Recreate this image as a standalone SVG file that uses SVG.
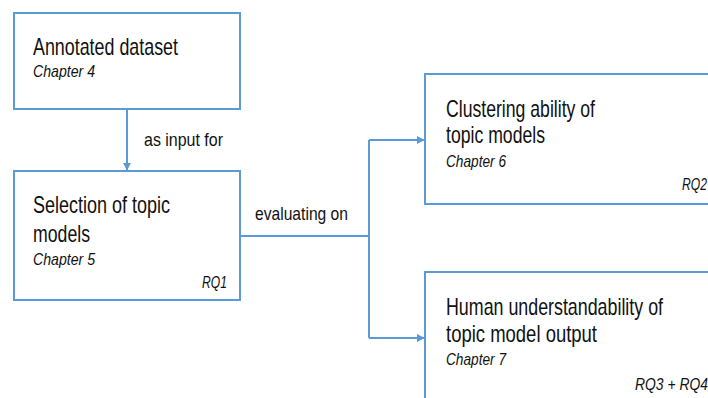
<svg xmlns="http://www.w3.org/2000/svg" width="708" height="398" viewBox="0 0 708 398">
  <defs>
    <style>
      .box { fill: #ffffff; stroke: #5b9bd5; stroke-width: 2; }
      .link { fill: none; stroke: #5b9bd5; stroke-width: 2; }
      .title { font-family: "Liberation Sans", Arial, sans-serif; font-size: 24px; fill: #111111; }
      .sub { font-family: "Liberation Sans", Arial, sans-serif; font-size: 17px; font-style: italic; fill: #111111; }
      .lbl { font-family: "Liberation Sans", Arial, sans-serif; font-size: 19px; fill: #111111; }
    </style>
    <marker id="arrow" viewBox="0 0 10 10" refX="9" refY="5" markerWidth="4" markerHeight="4" orient="auto" markerUnits="strokeWidth">
      <path d="M0,0 L10,5 L0,10 z" fill="#5b9bd5"/>
    </marker>
  </defs>
  <rect width="708" height="398" fill="#ffffff"/>

  <g id="connectors">
    <path class="link" d="M127,109 L127,170" marker-end="url(#arrow)"/>
    <path class="link" d="M240,236 L369,236"/>
    <path class="link" d="M369,140 L369,338"/>
    <path class="link" d="M369,140 L424,140" marker-end="url(#arrow)"/>
    <path class="link" d="M369,338 L424,338" marker-end="url(#arrow)"/>
    <text class="lbl" x="144" y="146" textLength="79" lengthAdjust="spacingAndGlyphs">as input for</text>
    <text class="lbl" x="255" y="220" textLength="93" lengthAdjust="spacingAndGlyphs">evaluating on</text>
  </g>

  <g id="annotated-dataset">
    <rect class="box" x="14" y="13" width="226" height="96"/>
    <text class="title" x="33" y="55" textLength="145" lengthAdjust="spacingAndGlyphs">Annotated dataset</text>
    <text class="sub" x="33" y="77" textLength="62" lengthAdjust="spacingAndGlyphs">Chapter 4</text>
  </g>

  <g id="selection">
    <rect class="box" x="14" y="171" width="226" height="129"/>
    <text class="title" x="33" y="213" textLength="137" lengthAdjust="spacingAndGlyphs">Selection of topic</text>
    <text class="title" x="33" y="242" textLength="57" lengthAdjust="spacingAndGlyphs">models</text>
    <text class="sub" x="33" y="265" textLength="62" lengthAdjust="spacingAndGlyphs">Chapter 5</text>
    <text class="sub" x="202" y="288" textLength="25" lengthAdjust="spacingAndGlyphs">RQ1</text>
  </g>

  <g id="clustering">
    <rect class="box" x="425" y="74" width="300" height="130"/>
    <text class="title" x="446" y="117" textLength="149" lengthAdjust="spacingAndGlyphs">Clustering ability of</text>
    <text class="title" x="446" y="143" textLength="99" lengthAdjust="spacingAndGlyphs">topic models</text>
    <text class="sub" x="446" y="167" textLength="60" lengthAdjust="spacingAndGlyphs">Chapter 6</text>
    <text class="sub" x="682" y="190" textLength="25" lengthAdjust="spacingAndGlyphs">RQ2</text>
  </g>

  <g id="understandability">
    <rect class="box" x="425" y="272" width="300" height="140"/>
    <text class="title" x="446" y="315" textLength="217" lengthAdjust="spacingAndGlyphs">Human understandability of</text>
    <text class="title" x="446" y="342" textLength="151" lengthAdjust="spacingAndGlyphs">topic model output</text>
    <text class="sub" x="446" y="365" textLength="60" lengthAdjust="spacingAndGlyphs">Chapter 7</text>
    <text class="sub" x="635" y="390" textLength="73" lengthAdjust="spacingAndGlyphs">RQ3 + RQ4</text>
  </g>
</svg>
